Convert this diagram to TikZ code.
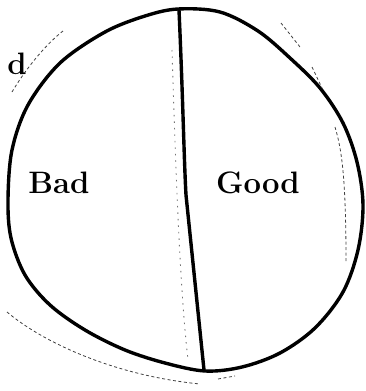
\documentclass[tikz,border=0pt]{standalone}
\begin{document}
\begin{tikzpicture}[x=1pt,y=-1pt,
  outline/.style={line width=3.4pt,line join=round,line cap=round},
  faint/.style={line width=0.8pt,black!75,dash pattern=on 3pt off 2.5pt},
  pencil/.style={line width=0.9pt,black!55,dash pattern=on 1.5pt off 5pt},
  lbl/.style={font=\bfseries\fontsize{31}{31}\selectfont,inner sep=0pt}]
\useasboundingbox (0,0) rectangle (365,391);
% main blob
\draw[outline] plot[smooth cycle,tension=0.55] coordinates {
  (178,9) (220,12) (258,31) (290,58) (320,88) (343,123) (357,162)
  (363,205) (358,250) (343,292) (315,328) (280,353) (242,367)
  (205,371) (165,363) (125,350) (85,330) (50,305) (25,275) (11,238)
  (8,200) (12,150) (28,105) (60,63) (105,32) (145,16)};
% dividing line
\coordinate (top) at (179,10);
\coordinate (mid) at (186,195);
\coordinate (bot) at (204,370);
\draw[line width=3.4pt,line cap=round] (top) .. controls (183,100) and (184,160) .. (mid) -- (bot);
% faint pencil line
\draw[pencil] (172,50) .. controls (176,180) and (180,290) .. (188,360);
% faint dashed arcs
\draw[faint] (12,92) .. controls (25,70) and (45,45) .. (63,31);
\draw[faint] (281,23) -- (300,47);
\draw[faint] (312,67) -- (322,88);
\draw[faint] (335,127) .. controls (342,150) and (346,180) .. (346,262);
\draw[faint] (7,312) .. controls (40,340) and (110,375) .. (200,384);
\draw[faint] (218,379) -- (235,376);
% labels
\node[lbl] (bad) at (59,183) {Bad};
\node[lbl] (good) at (258,183) {Good};
\node[font=\bfseries\fontsize{31}{31}\selectfont,inner sep=0pt] (d) at (17,64) {d};
\end{tikzpicture}
\end{document}
